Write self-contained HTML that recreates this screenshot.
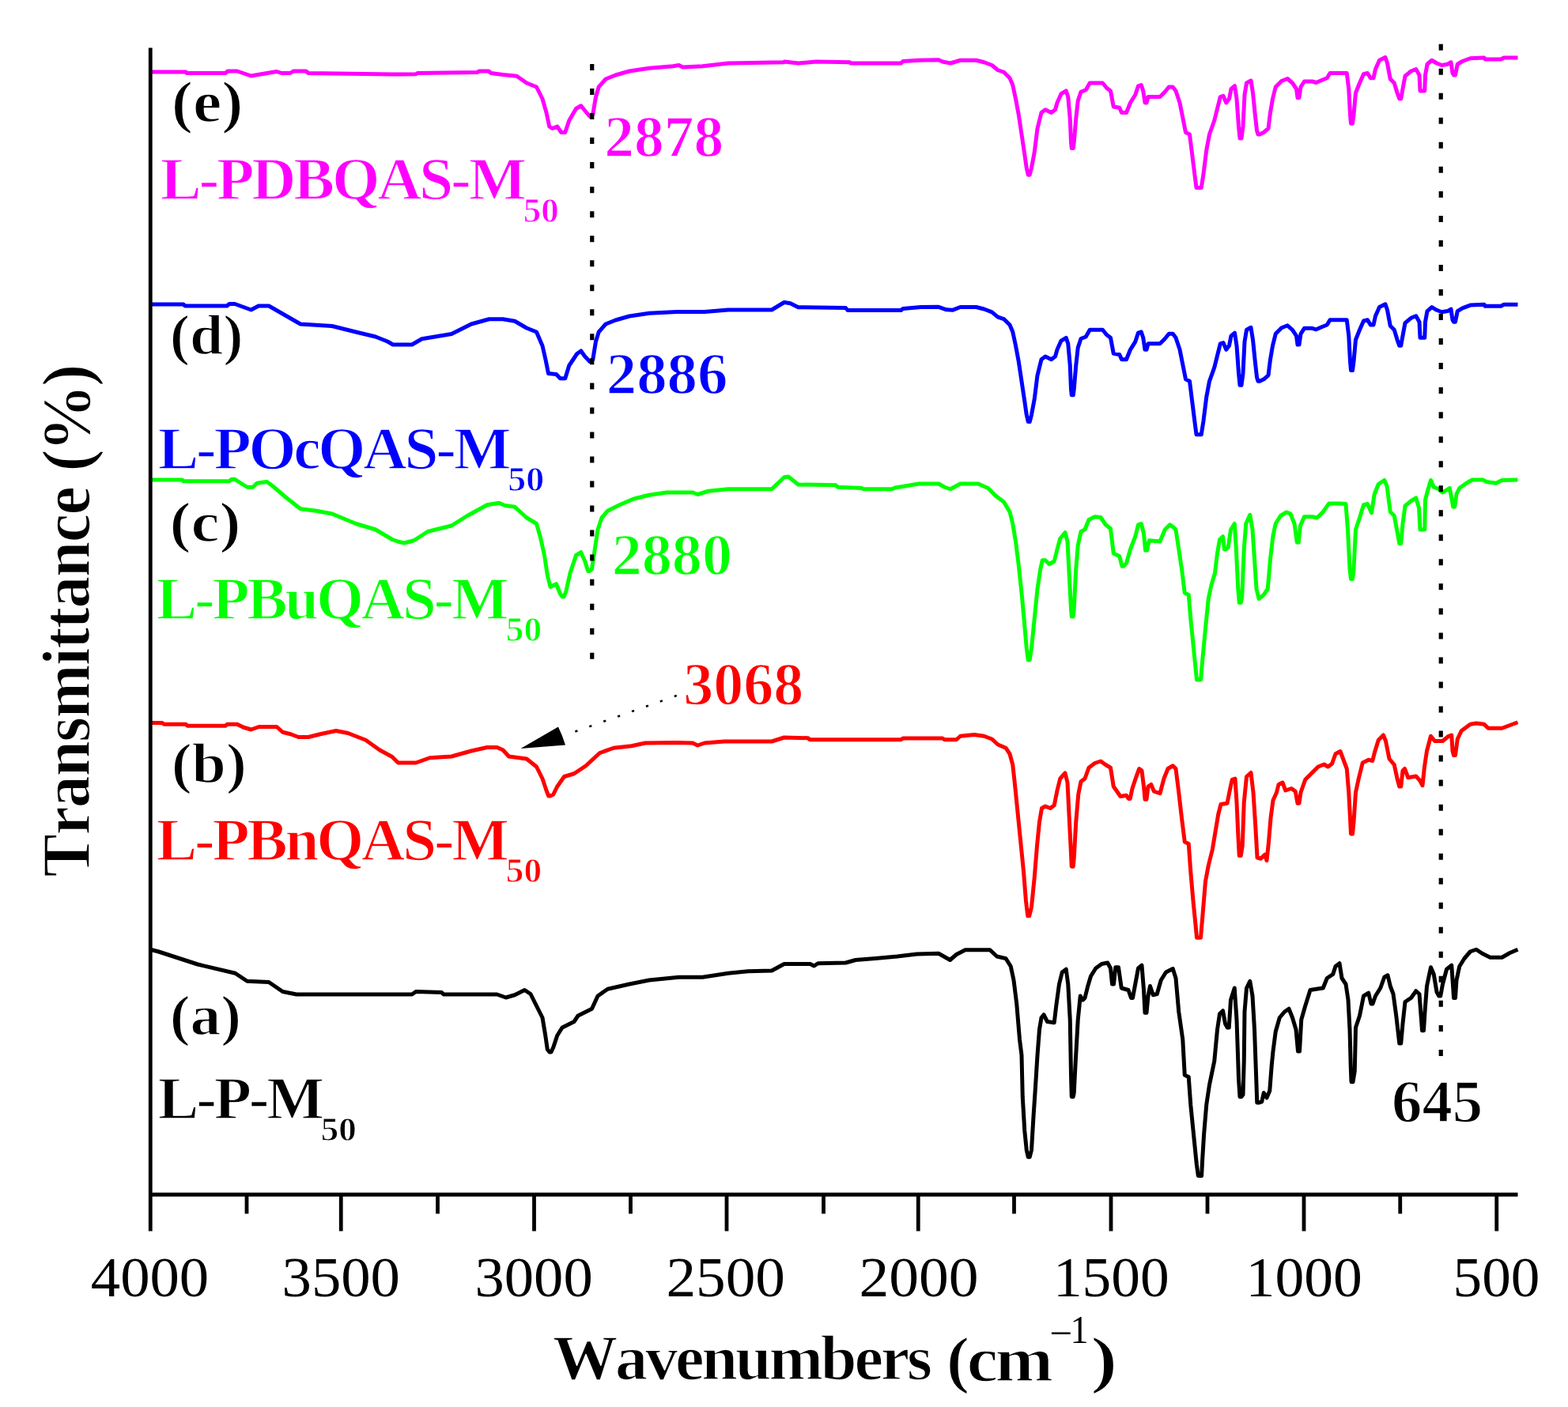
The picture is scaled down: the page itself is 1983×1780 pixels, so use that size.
<!DOCTYPE html>
<html lang="en">
<head>
<meta charset="utf-8">
<title>FTIR spectra</title>
<style>
html,body{margin:0;padding:0;background:#fff;}
body{width:1983px;height:1780px;overflow:hidden;}
svg{display:block;}
text{font-family:"Liberation Serif","DejaVu Serif",serif;font-kerning:none;}
</style>
</head>
<body>
<svg width="1983" height="1780" viewBox="0 0 1983 1780">
<rect x="0" y="0" width="1983" height="1780" fill="#ffffff"/>

<g id="curves">
<polyline points="190.00,1201.25 200.00,1203.75 250.00,1220.00 297.50,1231.25 312.50,1241.25 340.00,1242.50 357.50,1254.50 375.00,1258.00 496.00,1258.00 521.00,1258.00 526.00,1254.50 558.50,1255.50 561.00,1258.00 628.50,1258.00 639.75,1262.00 651.00,1258.75 663.50,1252.50 671.00,1257.50 678.50,1272.50 686.00,1287.50 689.75,1310.00 692.25,1327.50 695.00,1331.00 697.00,1331.00 699.75,1325.00 704.75,1310.00 711.00,1300.00 726.00,1292.50 731.00,1285.00 748.50,1276.25 756.00,1260.00 768.50,1251.25 796.00,1245.00 821.00,1240.00 858.50,1236.25 888.50,1236.25 921.00,1231.25 946.00,1228.75 976.00,1228.00 991.75,1219.50 1024.50,1219.50 1029.50,1222.00 1034.50,1218.75 1069.50,1218.00 1082.00,1214.50 1107.00,1212.50 1134.50,1210.00 1159.50,1207.00 1187.00,1206.25 1194.50,1210.50 1201.50,1214.50 1209.50,1207.50 1220.75,1201.75 1252.00,1201.75 1260.75,1210.00 1272.00,1212.50 1278.25,1222.50 1282.00,1240.00 1285.75,1270.00 1289.50,1315.00 1292.00,1335.00 1293.25,1387.50 1295.75,1430.00 1298.25,1455.00 1300.25,1463.75 1302.25,1463.75 1304.50,1455.00 1307.00,1412.50 1309.50,1375.00 1312.00,1335.00 1314.50,1302.50 1317.00,1287.50 1320.00,1283.75 1324.50,1292.50 1333.25,1293.75 1335.75,1272.50 1339.50,1245.00 1343.25,1230.00 1348.25,1226.25 1350.75,1245.00 1353.25,1290.00 1354.50,1360.00 1355.25,1387.50 1357.25,1387.50 1358.25,1382.50 1360.00,1347.50 1363.25,1290.00 1366.25,1260.00 1369.50,1265.00 1372.00,1262.50 1375.75,1247.50 1379.50,1235.00 1385.75,1225.00 1393.25,1219.50 1400.75,1218.00 1404.50,1225.00 1406.50,1245.00 1408.50,1245.00 1410.75,1223.75 1414.50,1223.75 1418.25,1250.00 1427.00,1252.50 1430.50,1262.50 1432.50,1262.50 1435.75,1245.00 1439.50,1225.00 1444.00,1221.25 1446.50,1252.50 1448.00,1281.25 1450.00,1281.25 1452.00,1260.00 1454.50,1247.50 1458.25,1258.75 1463.25,1257.50 1468.25,1240.00 1474.50,1230.00 1483.25,1225.50 1487.00,1237.50 1490.75,1280.00 1495.75,1315.00 1498.25,1360.00 1503.25,1362.50 1505.75,1397.50 1509.50,1435.00 1513.25,1472.50 1515.30,1487.50 1517.30,1487.50 1517.60,1487.50 1519.60,1487.50 1520.60,1468.00 1522.60,1435.00 1525.75,1397.50 1529.50,1372.50 1535.75,1342.50 1539.50,1302.50 1542.50,1282.50 1546.50,1278.75 1549.50,1295.00 1552.25,1300.00 1554.25,1300.00 1556.50,1265.00 1561.25,1250.00 1564.00,1290.00 1566.50,1365.00 1568.00,1387.50 1570.00,1387.50 1572.00,1385.00 1573.25,1342.50 1574.00,1280.00 1576.50,1250.00 1580.75,1241.25 1584.00,1260.00 1586.50,1302.50 1589.00,1372.50 1589.75,1395.00 1591.75,1395.00 1595.75,1393.75 1598.25,1382.50 1602.00,1388.75 1605.75,1380.00 1608.25,1347.50 1610.00,1330.00 1613.25,1305.00 1618.25,1287.50 1624.50,1280.00 1630.00,1276.25 1634.50,1287.50 1639.00,1302.50 1641.50,1330.00 1643.50,1330.00 1645.75,1290.00 1650.75,1272.50 1657.00,1252.50 1664.50,1251.25 1673.25,1250.00 1678.25,1237.50 1685.75,1232.50 1689.00,1222.50 1694.00,1218.75 1697.00,1237.50 1702.00,1245.00 1705.00,1265.00 1707.00,1302.50 1708.25,1350.00 1709.00,1368.75 1711.00,1368.75 1713.25,1355.00 1714.50,1300.00 1719.50,1285.00 1724.50,1260.00 1730.75,1256.25 1734.00,1270.00 1736.00,1270.00 1739.50,1260.00 1745.75,1250.00 1750.75,1236.25 1755.00,1233.75 1758.25,1247.50 1762.00,1257.50 1765.75,1285.00 1769.75,1320.00 1771.75,1320.00 1774.00,1295.00 1777.00,1267.50 1784.50,1262.50 1790.75,1253.75 1795.00,1257.50 1797.50,1290.00 1798.50,1303.75 1800.50,1303.75 1802.00,1280.00 1804.50,1247.50 1809.50,1223.75 1813.25,1232.50 1817.00,1255.00 1819.75,1260.00 1821.75,1260.00 1824.50,1245.00 1829.50,1226.25 1835.75,1221.25 1837.75,1250.00 1838.50,1262.50 1840.50,1262.50 1842.00,1240.00 1845.75,1222.50 1852.00,1212.50 1859.50,1203.75 1867.00,1201.25 1874.50,1206.25 1884.50,1211.25 1899.50,1211.25 1909.50,1205.50 1919.50,1201.25" fill="none" stroke="#000000" stroke-width="5.0" stroke-linejoin="round" stroke-linecap="butt"/>
<polyline points="190.00,914.50 205.00,914.50 207.50,916.25 235.00,916.25 237.00,918.25 285.00,918.25 287.50,916.25 300.00,916.25 307.50,920.00 317.50,923.00 327.50,919.50 350.00,919.50 357.50,926.25 367.50,928.75 377.50,932.50 390.00,932.50 405.00,928.75 425.00,924.50 440.00,927.50 462.50,936.25 480.00,948.75 496.00,957.50 503.50,965.00 526.00,965.00 543.50,958.75 571.00,957.00 596.00,950.00 616.00,945.50 628.50,945.50 636.00,948.75 643.50,957.00 666.00,960.00 678.50,970.00 686.00,985.00 691.00,1000.00 693.75,1007.00 695.75,1007.00 699.75,1005.00 704.75,995.00 713.50,982.50 726.00,978.75 741.00,968.75 758.50,952.50 776.00,946.25 798.50,943.75 816.00,940.00 853.50,939.50 876.00,940.00 882.25,943.00 891.00,940.00 916.00,938.00 976.00,938.00 991.75,933.00 1022.00,933.75 1024.00,935.75 1139.50,935.75 1142.00,934.00 1192.00,934.00 1194.50,935.75 1209.50,935.75 1214.50,931.25 1232.00,929.50 1244.50,931.25 1254.50,935.00 1262.00,942.00 1272.00,946.25 1277.00,953.75 1280.75,967.50 1283.25,990.00 1287.00,1027.50 1290.75,1065.00 1294.50,1102.50 1297.50,1140.00 1299.75,1158.75 1301.75,1158.75 1304.50,1147.50 1308.25,1110.00 1311.50,1070.00 1314.50,1040.00 1317.50,1022.50 1322.00,1020.00 1328.25,1022.50 1333.25,1018.75 1337.00,1000.00 1340.75,985.00 1347.00,978.00 1350.00,990.00 1352.50,1040.00 1354.50,1080.00 1355.25,1096.25 1357.25,1096.25 1358.25,1085.00 1360.75,1040.00 1363.75,1005.00 1367.00,988.75 1372.00,985.00 1377.00,971.25 1384.50,965.50 1392.00,963.00 1398.25,967.50 1404.50,971.25 1408.25,995.00 1417.00,1007.50 1424.50,1006.25 1427.25,1010.50 1429.25,1010.50 1432.00,997.50 1437.00,982.50 1440.75,972.50 1444.00,975.00 1446.50,995.00 1448.00,1011.25 1450.00,1011.25 1452.00,995.00 1455.75,992.50 1459.50,1001.25 1467.00,1003.75 1472.00,985.00 1477.00,972.50 1483.25,968.75 1487.00,972.50 1490.75,1002.50 1494.50,1035.00 1498.25,1065.00 1503.25,1067.50 1505.75,1102.50 1509.00,1140.00 1512.00,1170.00 1513.50,1186.25 1515.50,1186.25 1516.50,1186.25 1518.50,1186.25 1520.75,1160.00 1524.50,1115.00 1528.25,1095.00 1533.25,1075.00 1537.00,1052.50 1540.75,1030.00 1544.00,1017.50 1552.00,1016.25 1555.75,997.50 1558.25,986.25 1562.00,985.00 1564.00,1015.00 1566.00,1060.00 1567.25,1082.50 1569.25,1082.50 1571.25,1070.00 1573.25,1015.00 1576.50,982.50 1582.00,977.50 1585.00,1002.50 1587.75,1045.00 1590.00,1085.00 1594.50,1086.25 1599.50,1081.25 1602.00,1088.75 1604.50,1065.00 1607.00,1035.00 1610.00,1012.50 1614.50,1002.50 1617.00,992.50 1622.00,990.00 1625.75,1000.00 1633.25,997.50 1638.25,1001.25 1641.00,1016.25 1643.00,1016.25 1645.00,1002.50 1650.75,986.25 1659.50,977.50 1667.00,970.00 1674.50,967.00 1679.50,970.00 1684.50,966.25 1689.00,953.75 1695.00,950.50 1699.50,962.50 1703.25,972.50 1705.75,1002.50 1707.75,1040.00 1708.50,1055.00 1710.50,1055.00 1712.00,1040.00 1714.50,1002.50 1718.25,985.00 1723.25,965.00 1730.75,961.25 1735.75,962.50 1738.25,952.50 1743.25,936.25 1749.50,930.00 1752.50,937.50 1757.00,960.00 1763.25,967.50 1767.00,985.00 1769.75,995.00 1771.75,995.00 1774.00,975.00 1776.50,972.50 1780.75,983.75 1790.75,982.00 1795.75,987.50 1799.00,993.75 1801.50,970.00 1804.50,950.00 1809.50,931.25 1814.50,937.50 1824.50,937.50 1832.00,931.25 1835.75,930.00 1837.00,950.00 1838.50,955.50 1840.50,955.50 1843.25,935.00 1848.25,924.50 1859.50,916.25 1867.00,915.00 1877.00,916.25 1882.00,921.25 1899.50,921.25 1909.50,917.50 1919.50,913.75" fill="none" stroke="#ff0000" stroke-width="5.0" stroke-linejoin="round" stroke-linecap="butt"/>
<polyline points="190.00,607.00 230.00,607.00 232.00,608.75 290.00,608.75 293.00,606.25 297.00,606.25 302.50,610.00 312.50,616.25 320.00,616.25 325.00,611.25 337.50,609.50 345.00,615.00 362.50,630.00 380.00,643.75 400.00,646.25 420.00,650.00 450.00,662.50 475.00,670.00 496.00,682.50 503.00,685.00 511.00,687.00 523.50,683.75 541.00,672.50 571.00,665.00 591.00,652.50 616.00,638.75 631.00,636.25 638.50,639.50 651.00,641.25 666.00,655.00 678.50,662.50 683.50,680.00 688.50,702.50 692.25,727.50 696.00,742.50 703.50,738.75 708.50,751.25 711.25,755.00 713.25,755.00 716.00,747.50 721.00,725.00 728.50,702.50 734.75,698.75 739.75,710.00 743.75,722.50 745.75,722.50 748.50,720.00 752.25,695.00 756.00,670.00 761.00,655.00 768.50,646.25 783.50,638.75 801.00,631.25 821.00,626.25 843.50,623.00 876.00,623.00 882.25,625.50 896.00,621.25 921.00,618.75 976.00,618.75 991.75,603.75 997.00,603.00 1009.50,613.00 1057.00,613.75 1059.50,616.25 1089.50,617.50 1092.00,618.75 1128.25,618.75 1132.00,617.00 1144.50,615.00 1162.00,612.00 1187.00,612.00 1194.50,616.25 1202.00,618.75 1214.50,612.00 1237.00,612.00 1249.50,617.50 1259.50,627.50 1269.50,635.00 1277.00,647.50 1280.75,662.50 1284.50,685.00 1288.25,715.00 1292.00,750.00 1295.00,782.50 1298.25,820.00 1300.25,835.00 1302.25,835.00 1304.50,820.00 1308.25,782.50 1312.00,745.00 1315.75,720.00 1318.25,708.75 1322.00,708.75 1327.00,713.75 1333.25,710.00 1337.00,695.00 1340.75,681.25 1347.00,673.75 1350.00,685.00 1352.50,732.50 1354.50,770.00 1355.25,780.00 1357.25,780.00 1358.25,770.00 1360.75,720.00 1363.25,690.00 1367.00,672.50 1372.00,670.00 1377.00,657.50 1384.50,653.75 1392.00,654.50 1398.25,663.75 1404.50,668.75 1408.25,700.00 1415.75,703.75 1419.00,716.25 1421.00,716.25 1424.50,712.50 1429.50,695.00 1435.75,678.75 1439.50,663.75 1443.25,662.50 1446.50,675.00 1448.50,696.25 1450.50,696.25 1453.25,683.75 1467.00,685.00 1473.25,670.00 1479.50,663.75 1484.50,667.50 1487.00,670.00 1490.75,695.00 1494.50,720.00 1498.25,750.00 1503.25,752.50 1505.75,782.50 1509.00,815.00 1512.00,845.00 1513.50,860.00 1515.50,860.00 1516.50,860.00 1518.50,860.00 1520.75,835.00 1524.50,795.00 1528.25,757.50 1532.00,740.00 1536.50,725.00 1539.50,700.00 1542.50,682.50 1546.50,678.75 1548.50,695.00 1550.50,695.00 1553.25,692.50 1556.50,670.00 1561.25,662.50 1563.25,692.50 1565.75,745.00 1567.25,762.50 1569.25,762.50 1570.75,755.00 1573.25,695.00 1575.75,662.50 1580.75,651.25 1584.00,670.00 1586.50,707.50 1589.00,745.00 1592.00,757.50 1598.25,752.50 1603.25,745.00 1606.50,707.50 1610.00,677.50 1613.25,662.50 1619.50,652.50 1627.00,648.00 1632.00,650.00 1637.00,662.50 1640.25,686.25 1642.25,686.25 1644.50,665.00 1649.50,653.75 1659.50,653.75 1665.75,655.00 1673.25,647.50 1680.75,637.00 1694.50,637.00 1702.00,637.50 1704.50,670.00 1707.00,720.00 1708.50,732.50 1710.50,732.50 1712.00,720.00 1714.50,670.00 1719.50,655.00 1724.50,638.75 1729.50,637.50 1734.50,648.75 1738.25,625.00 1743.25,612.50 1750.75,607.50 1754.00,615.00 1758.25,647.50 1763.25,652.50 1767.00,672.50 1769.75,687.50 1771.75,687.50 1774.00,662.50 1777.00,640.00 1784.50,633.75 1790.75,630.00 1794.50,642.50 1796.00,670.00 1798.00,670.00 1799.75,670.00 1801.75,670.00 1802.50,632.50 1805.75,620.00 1809.50,607.50 1813.25,616.25 1819.50,618.75 1824.50,623.00 1833.25,617.50 1835.75,630.00 1837.75,641.25 1839.75,641.25 1842.00,625.00 1845.75,617.50 1854.50,611.25 1862.00,607.00 1875.75,607.00 1879.50,609.50 1892.00,611.25 1899.50,607.50 1919.50,607.00" fill="none" stroke="#00ff00" stroke-width="5.0" stroke-linejoin="round" stroke-linecap="butt"/>
<polyline points="190.00,385.00 232.00,385.00 234.00,387.00 287.00,387.00 290.00,384.50 297.00,384.50 317.50,392.00 327.00,387.00 340.00,387.00 380.00,410.00 420.00,412.50 450.00,420.00 475.00,426.00 490.00,432.00 497.00,436.00 521.00,436.00 533.50,428.75 571.00,422.50 596.00,410.00 618.50,403.75 636.00,403.75 651.00,406.25 666.00,415.00 678.50,420.00 686.00,437.50 690.00,455.00 693.50,472.50 703.50,473.50 708.50,478.75 714.75,478.75 719.75,462.50 729.75,447.50 734.75,444.00 739.75,451.00 746.00,457.50 749.75,455.00 753.50,432.00 757.25,420.00 766.00,410.00 778.50,405.00 796.00,400.00 821.00,396.25 856.00,394.50 891.00,394.50 921.00,392.00 976.00,392.00 991.75,382.50 992.00,382.50 999.50,383.75 1009.50,388.75 1069.50,389.50 1072.00,392.50 1139.50,392.50 1142.00,390.50 1164.50,388.50 1187.00,388.30 1197.00,391.80 1204.50,392.30 1214.50,388.50 1234.50,388.50 1244.50,391.00 1254.50,394.80 1262.00,401.05 1269.50,403.55 1277.00,411.05 1280.75,419.80 1284.50,437.30 1288.25,457.30 1292.00,482.30 1295.75,507.30 1298.25,524.80 1300.25,533.55 1302.25,533.55 1304.50,524.80 1308.25,504.80 1312.00,474.80 1317.00,454.80 1322.00,451.05 1329.50,454.80 1334.50,451.05 1337.00,442.30 1342.00,431.05 1348.25,427.30 1350.75,434.80 1353.25,462.30 1354.50,492.30 1355.25,499.80 1357.25,499.80 1358.25,492.30 1360.75,462.30 1363.25,439.80 1367.00,428.55 1373.25,426.05 1378.25,417.30 1394.50,417.30 1399.50,423.55 1404.50,427.30 1408.25,447.30 1415.75,448.55 1418.50,454.80 1420.50,454.80 1424.50,454.80 1429.50,442.30 1435.75,432.30 1439.50,421.05 1443.25,419.80 1445.75,427.30 1448.00,442.30 1450.00,442.30 1452.00,434.80 1467.00,434.80 1473.25,428.55 1478.25,422.30 1483.25,422.30 1487.00,427.30 1492.00,442.30 1497.00,467.30 1499.50,479.80 1504.50,482.30 1507.00,502.30 1510.75,532.30 1513.00,549.80 1515.00,549.80 1517.25,549.80 1519.25,549.80 1522.00,532.30 1525.75,502.30 1529.50,482.30 1535.75,464.80 1539.50,449.80 1543.25,434.80 1547.00,433.55 1550.75,442.30 1554.50,437.30 1557.00,424.80 1561.50,421.05 1564.00,437.30 1566.50,472.30 1568.00,487.30 1570.00,487.30 1572.00,472.30 1574.00,432.30 1576.50,417.30 1582.00,414.30 1584.50,429.80 1587.00,454.80 1589.50,477.30 1591.00,482.30 1593.00,482.30 1598.25,479.80 1604.00,474.80 1606.50,454.80 1609.50,437.30 1613.25,422.30 1620.75,414.80 1628.25,411.80 1634.50,417.30 1639.50,424.80 1641.00,436.05 1643.00,436.05 1645.00,422.30 1649.50,415.30 1659.50,415.30 1664.50,416.80 1672.00,413.55 1678.25,411.05 1682.00,404.80 1703.25,404.80 1705.75,424.80 1707.50,457.30 1708.50,468.55 1710.50,468.55 1712.00,457.30 1714.50,429.80 1719.50,417.30 1724.50,406.05 1729.50,404.80 1733.25,411.05 1737.00,411.05 1739.50,399.80 1744.50,388.55 1752.00,384.80 1754.50,392.30 1758.25,412.30 1763.25,417.30 1767.00,429.80 1769.75,437.30 1771.75,437.30 1774.00,424.80 1777.00,408.55 1784.50,402.30 1790.75,399.80 1795.00,407.30 1796.00,427.30 1798.00,427.30 1799.75,427.30 1801.75,427.30 1802.50,407.30 1805.00,393.55 1810.75,388.55 1817.00,392.30 1823.25,394.80 1830.75,393.55 1835.00,391.05 1837.00,404.80 1838.50,407.30 1840.50,407.30 1843.25,393.55 1849.50,389.80 1859.50,386.05 1877.00,385.30 1878.25,387.30 1898.25,387.30 1902.00,385.30 1919.50,385.30" fill="none" stroke="#0000ff" stroke-width="5.0" stroke-linejoin="round" stroke-linecap="butt"/>
<polyline points="190.00,91.00 235.00,91.00 236.00,92.50 285.00,92.50 288.00,90.00 300.00,90.00 317.50,96.00 335.00,93.00 350.00,90.50 356.00,92.50 367.00,92.50 371.00,90.00 387.00,90.00 390.00,92.50 496.00,94.00 526.00,93.75 528.00,92.50 603.50,91.50 606.00,90.00 618.00,90.00 621.00,92.50 636.00,94.50 653.50,96.25 666.00,105.00 678.50,110.00 686.00,125.00 691.00,142.50 694.75,160.00 698.50,162.50 704.75,160.00 709.75,167.50 714.75,167.50 719.75,152.50 728.50,137.50 734.75,133.75 739.75,140.00 746.00,147.50 749.75,145.00 753.50,122.50 757.25,110.00 766.00,100.00 778.50,95.00 796.00,90.00 821.00,86.25 851.00,83.75 858.50,82.50 863.50,85.00 888.50,83.75 921.00,80.00 991.75,78.75 992.00,78.00 1009.50,80.00 1032.00,78.00 1074.50,78.75 1076.00,80.00 1139.50,80.00 1142.00,77.50 1162.00,76.25 1187.00,75.75 1192.00,78.00 1202.00,80.00 1214.50,76.25 1234.50,76.25 1244.50,78.75 1254.50,82.50 1262.00,88.75 1269.50,91.25 1277.00,98.75 1280.75,107.50 1284.50,125.00 1288.25,145.00 1292.00,170.00 1295.75,195.00 1298.25,212.50 1300.25,221.25 1302.25,221.25 1304.50,212.50 1308.25,192.50 1312.00,162.50 1317.00,142.50 1322.00,138.75 1329.50,142.50 1334.50,138.75 1337.00,130.00 1342.00,118.75 1348.25,115.00 1350.75,122.50 1353.25,150.00 1354.50,180.00 1355.25,187.50 1357.25,187.50 1358.25,180.00 1360.75,150.00 1363.25,127.50 1367.00,116.25 1373.25,113.75 1378.25,105.00 1394.50,105.00 1399.50,111.25 1404.50,115.00 1408.25,135.00 1415.75,136.25 1418.50,142.50 1420.50,142.50 1424.50,142.50 1429.50,130.00 1435.75,120.00 1439.50,108.75 1443.25,107.50 1445.75,115.00 1448.00,130.00 1450.00,130.00 1452.00,122.50 1467.00,122.50 1473.25,116.25 1478.25,110.00 1483.25,110.00 1487.00,115.00 1492.00,130.00 1497.00,155.00 1499.50,167.50 1504.50,170.00 1507.00,190.00 1510.75,220.00 1513.00,237.50 1515.00,237.50 1517.25,237.50 1519.25,237.50 1522.00,220.00 1525.75,190.00 1529.50,170.00 1535.75,152.50 1539.50,137.50 1543.25,122.50 1547.00,121.25 1550.75,130.00 1554.50,125.00 1557.00,112.50 1561.50,108.75 1564.00,125.00 1566.50,160.00 1568.00,175.00 1570.00,175.00 1572.00,160.00 1574.00,120.00 1576.50,105.00 1582.00,102.00 1584.50,117.50 1587.00,142.50 1589.50,165.00 1591.00,170.00 1593.00,170.00 1598.25,167.50 1604.00,162.50 1606.50,142.50 1609.50,125.00 1613.25,110.00 1620.75,102.50 1628.25,99.50 1634.50,105.00 1639.50,112.50 1641.00,123.75 1643.00,123.75 1645.00,110.00 1649.50,103.00 1659.50,103.00 1664.50,104.50 1672.00,101.25 1678.25,98.75 1682.00,92.50 1703.25,92.50 1705.75,112.50 1707.50,145.00 1708.50,156.25 1710.50,156.25 1712.00,145.00 1714.50,117.50 1719.50,105.00 1724.50,93.75 1729.50,92.50 1733.25,98.75 1737.00,98.75 1739.50,87.50 1744.50,76.25 1752.00,72.50 1754.50,80.00 1758.25,100.00 1763.25,105.00 1767.00,117.50 1769.75,125.00 1771.75,125.00 1774.00,112.50 1777.00,96.25 1784.50,90.00 1790.75,87.50 1795.00,95.00 1796.00,115.00 1798.00,115.00 1799.75,115.00 1801.75,115.00 1802.50,95.00 1805.00,81.25 1810.75,76.25 1817.00,80.00 1823.25,82.50 1830.75,81.25 1835.00,78.75 1837.00,92.50 1838.50,95.00 1840.50,95.00 1843.25,81.25 1849.50,77.50 1859.50,73.75 1877.00,73.00 1878.25,75.00 1898.25,75.00 1902.00,73.00 1919.50,73.00" fill="none" stroke="#ff00ff" stroke-width="5.0" stroke-linejoin="round" stroke-linecap="butt"/>
</g>
<g id="axes" stroke="#000" fill="none">
<line x1="190.25" y1="60.5" x2="190.25" y2="1557.5" stroke-width="4.8"/>
<line x1="188" y1="1511.2" x2="1919.5" y2="1511.2" stroke-width="5"/>
<line x1="431.25" y1="1511" x2="431.25" y2="1557.5" stroke-width="4.8"/>
<line x1="675.5" y1="1511" x2="675.5" y2="1557.5" stroke-width="4.8"/>
<line x1="919" y1="1511" x2="919" y2="1557.5" stroke-width="4.8"/>
<line x1="1161.25" y1="1511" x2="1161.25" y2="1557.5" stroke-width="4.8"/>
<line x1="1405" y1="1511" x2="1405" y2="1557.5" stroke-width="4.8"/>
<line x1="1649" y1="1511" x2="1649" y2="1557.5" stroke-width="4.8"/>
<line x1="1892.75" y1="1511" x2="1892.75" y2="1557.5" stroke-width="4.8"/>
<line x1="312" y1="1511" x2="312" y2="1535.5" stroke-width="4.8"/>
<line x1="553.5" y1="1511" x2="553.5" y2="1535.5" stroke-width="4.8"/>
<line x1="797.5" y1="1511" x2="797.5" y2="1535.5" stroke-width="4.8"/>
<line x1="1041.5" y1="1511" x2="1041.5" y2="1535.5" stroke-width="4.8"/>
<line x1="1282.5" y1="1511" x2="1282.5" y2="1535.5" stroke-width="4.8"/>
<line x1="1527" y1="1511" x2="1527" y2="1535.5" stroke-width="4.8"/>
<line x1="1770.75" y1="1511" x2="1770.75" y2="1535.5" stroke-width="4.8"/>
</g>
<g id="dotted" stroke="#000" fill="none" stroke-width="5.2">
<line x1="748.75" y1="81" x2="748.75" y2="835" stroke-dasharray="8 23.03"/>
<line x1="1822.25" y1="55.7" x2="1822.25" y2="1338" stroke-dasharray="8 23.03"/>
</g>
<g id="arrow">
<line x1="727.4" y1="925.55" x2="856.5" y2="879.75" stroke="#000" stroke-width="2.6" stroke-dasharray="3.2 15.8"/>
<polygon points="658.5,947 706,919.5 711,931 715,942.5" fill="#000"/>
</g>
<g id="ticklabels">
<text transform="translate(114.76,1640.02) scale(0.9966,0.951)" font-size="75" fill="#000000">4000</text>
<text transform="translate(356.51,1640.02) scale(0.9965,0.951)" font-size="75" fill="#000000">3500</text>
<text transform="translate(600.52,1640.02) scale(0.9948,0.951)" font-size="75" fill="#000000">3000</text>
<text transform="translate(842.49,1640.02) scale(1.0035,0.951)" font-size="75" fill="#000000">2500</text>
<text transform="translate(1086.48,1640.02) scale(1.007,0.951)" font-size="75" fill="#000000">2000</text>
<text transform="translate(1331.89,1640.02) scale(0.9786,0.951)" font-size="75" fill="#000000">1500</text>
<text transform="translate(1575.62,1640.02) scale(0.9822,0.951)" font-size="75" fill="#000000">1000</text>
<text transform="translate(1837.61,1640.02) scale(0.9762,0.951)" font-size="75" fill="#000000">500</text>
</g>
<g id="titles">
<text transform="translate(698.89,1745.4) scale(1.055,1.0393)" font-size="78" font-weight="bold" stroke="#ffffff" stroke-width="1.4" stroke-linejoin="round" letter-spacing="-3" fill="#000000">Wavenumbers</text>
<text transform="translate(1196.67,1746.96) scale(1.1313,1.0426)" font-size="78" font-weight="bold" stroke="#ffffff" stroke-width="1.4" stroke-linejoin="round" letter-spacing="-3" fill="#000000">(cm</text>
<text transform="translate(1330.28,1699.4) scale(0.9648,1.0349)" font-size="48" fill="#000000">–1</text>
<text transform="translate(1379.37,1746.96) scale(1.3105,1.0426)" font-size="78" font-weight="bold" stroke="#ffffff" stroke-width="1.4" stroke-linejoin="round" fill="#000000">)</text>
<text transform="translate(113.0,1109.54) rotate(-90) scale(1.0209,1.0873)" font-size="80" font-weight="bold" stroke="#ffffff" stroke-width="1.4" stroke-linejoin="round" letter-spacing="-1.5" fill="#000000">Transmittance</text>
<text transform="translate(112.54,596.68) rotate(-90) scale(1.0689,1.0814)" font-size="80" font-weight="bold" stroke="#ffffff" stroke-width="1.4" stroke-linejoin="round" letter-spacing="-3" fill="#000000">(%)</text>
</g>
<g id="panels">
<text transform="translate(216.71,153.78) scale(1.1354,1.016)" font-size="72" font-weight="bold" stroke="#ffffff" stroke-width="1.4" stroke-linejoin="round" fill="#000000">(e)</text>
<text transform="translate(214.78,448.4) scale(1.0538,1.0)" font-size="72" font-weight="bold" stroke="#ffffff" stroke-width="1.4" stroke-linejoin="round" fill="#000000">(d)</text>
<text transform="translate(214.5,684.89) scale(1.125,1.008)" font-size="72" font-weight="bold" stroke="#ffffff" stroke-width="1.4" stroke-linejoin="round" fill="#000000">(c)</text>
<text transform="translate(216.68,989.86) scale(1.0813,0.9921)" font-size="72" font-weight="bold" stroke="#ffffff" stroke-width="1.4" stroke-linejoin="round" fill="#000000">(b)</text>
<text transform="translate(214.7,1308.67) scale(1.0757,0.988)" font-size="72" font-weight="bold" stroke="#ffffff" stroke-width="1.4" stroke-linejoin="round" fill="#000000">(a)</text>
</g>
<g id="series">
<text transform="translate(202.84,251.81) scale(1.0802,1.0604)" font-size="72" font-weight="bold" stroke="#ffffff" stroke-width="1.4" stroke-linejoin="round" letter-spacing="-3" fill="#ff00ff">L-PDBQAS-M</text>
<text transform="translate(661.86,280.5) scale(1.0724,1.0636)" font-size="42" font-weight="bold" stroke="#ffffff" stroke-width="0.9" stroke-linejoin="round" fill="#ff00ff">50</text>
<text transform="translate(199.86,592.55) scale(1.0716,1.0495)" font-size="72" font-weight="bold" stroke="#ffffff" stroke-width="1.4" stroke-linejoin="round" letter-spacing="-3" fill="#0000ff">L-POcQAS-M</text>
<text transform="translate(642.32,621.25) scale(1.0921,1.0455)" font-size="42" font-weight="bold" stroke="#ffffff" stroke-width="0.9" stroke-linejoin="round" fill="#0000ff">50</text>
<text transform="translate(197.86,783.06) scale(1.0691,1.0604)" font-size="72" font-weight="bold" stroke="#ffffff" stroke-width="1.4" stroke-linejoin="round" letter-spacing="-3" fill="#00ff00">L-PBuQAS-M</text>
<text transform="translate(639.84,811.25) scale(1.0789,1.0455)" font-size="42" font-weight="bold" stroke="#ffffff" stroke-width="0.9" stroke-linejoin="round" fill="#00ff00">50</text>
<text transform="translate(197.86,1088.05) scale(1.0703,1.0495)" font-size="72" font-weight="bold" stroke="#ffffff" stroke-width="1.4" stroke-linejoin="round" letter-spacing="-3" fill="#ff0000">L-PBnQAS-M</text>
<text transform="translate(639.84,1116.25) scale(1.0789,1.0455)" font-size="42" font-weight="bold" stroke="#ffffff" stroke-width="0.9" stroke-linejoin="round" fill="#ff0000">50</text>
<text transform="translate(199.85,1414.81) scale(1.0733,1.0604)" font-size="72" font-weight="bold" stroke="#ffffff" stroke-width="1.4" stroke-linejoin="round" letter-spacing="-3" fill="#000000">L-P-M</text>
<text transform="translate(405.86,1443.0) scale(1.0724,1.0182)" font-size="42" font-weight="bold" stroke="#ffffff" stroke-width="0.9" stroke-linejoin="round" fill="#000000">50</text>
</g>
<g id="peaks">
<text transform="translate(764.31,198.02) scale(1.0474,1.0372)" font-size="72" font-weight="bold" stroke="#ffffff" stroke-width="1.4" stroke-linejoin="round" fill="#ff00ff">2878</text>
<text transform="translate(766.73,497.51) scale(1.0675,1.0266)" font-size="72" font-weight="bold" stroke="#ffffff" stroke-width="1.4" stroke-linejoin="round" fill="#0000ff">2886</text>
<text transform="translate(773.77,726.77) scale(1.0568,1.0372)" font-size="72" font-weight="bold" stroke="#ffffff" stroke-width="1.4" stroke-linejoin="round" fill="#00ff00">2880</text>
<text transform="translate(864.31,891.03) scale(1.0545,1.0532)" font-size="72" font-weight="bold" stroke="#ffffff" stroke-width="1.4" stroke-linejoin="round" fill="#ff0000">3068</text>
<text transform="translate(1760.05,1419.27) scale(1.0665,1.0484)" font-size="72" font-weight="bold" stroke="#ffffff" stroke-width="1.4" stroke-linejoin="round" fill="#000000">645</text>
</g>
</svg>
</body>
</html>
